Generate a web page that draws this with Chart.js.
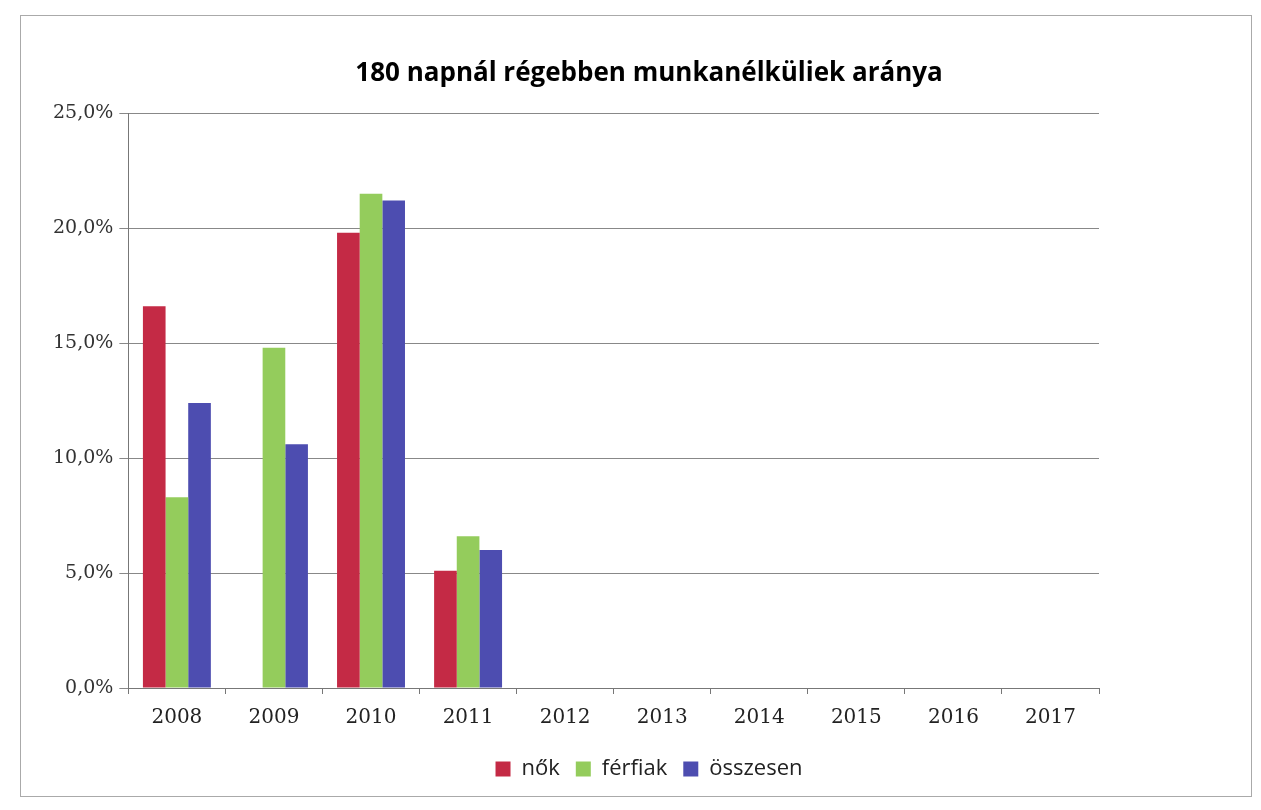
<!DOCTYPE html>
<html>
<head>
<meta charset="utf-8">
<script src="https://cdn.jsdelivr.net/npm/chart.js@4/dist/chart.umd.min.js"></script>
<style>
  body { margin: 0; background: #fff; }
  #wrap { position: absolute; left: 20px; top: 15px; width: 1230px; height: 780px; border: 1px solid #aaa; }
</style>
</head>
<body>
<div id="wrap"><canvas id="myChart"></canvas></div>
<script>
const years = ['2008', '2009', '2010', '2011', '2012', '2013', '2014', '2015', '2016', '2017'];
const nok = [16.6, null, 19.8, 5.1, null, null, null, null, null, null];
const ferfiak = [8.3, 14.8, 21.5, 6.6, null, null, null, null, null, null];
const osszesen = [12.4, 10.6, 21.2, 6.0, null, null, null, null, null, null];
const yTicks = [0, 5, 10, 15, 20, 25];

const ctx = document.getElementById('myChart').getContext('2d');
const myChart = new Chart(ctx, {
    type: 'bar',
    data: {
        labels: years,
        datasets: [
            { label: 'nők', data: nok, backgroundColor: '#c42a45' },
            { label: 'férfiak', data: ferfiak, backgroundColor: '#94cc5c' },
            { label: 'összesen', data: osszesen, backgroundColor: '#4d4db0' }
        ]
    },
    options: {
        responsive: true,
        maintainAspectRatio: false,
        animation: false,
        layout: { padding: { left: 26, right: 0, top: 32, bottom: 6 } },
        datasets: { bar: { categoryPercentage: 0.7, barPercentage: 1.0 } },
        plugins: {
            title: {
                display: true,
                text: '180 napnál régebben munkanélküliek aránya',
                color: '#000',
                font: { family: 'Open Sans', size: 26, weight: 'bold' },
                padding: { top: 10, bottom: 24 }
            },
            legend: {
                position: 'bottom',
                labels: {
                    color: '#222',
                    font: { family: 'Open Sans', size: 22 },
                    boxWidth: 15, boxHeight: 15, padding: 16
                }
            },
            tooltip: { enabled: false }
        },
        scales: {
            x: {
                grid: { display: true, drawOnChartArea: false, offset: true, color: '#777', tickLength: 6 },
                border: { color: '#777' },
                ticks: { color: '#222', font: { family: 'DejaVu Serif', size: 20 }, padding: 12 }
            },
            y: {
                min: 0, max: 25,
                afterBuildTicks: axis => { axis.ticks = yTicks.map(v => ({ value: v })); },
                grid: { color: '#888', tickLength: 9 },
                border: { color: '#777' },
                ticks: {
                    color: '#333',
                    font: { family: 'DejaVu Serif', size: 19 },
                    padding: 6,
                    callback: v => v.toFixed(1).replace('.', ',') + '%'
                }
            },
            pad: {
                position: 'right',
                display: true,
                grid: { display: false },
                border: { display: false },
                ticks: { display: false },
                afterFit: axis => { axis.width = 152; }
            }
        }
    }
});
</script>
</body>
</html>
